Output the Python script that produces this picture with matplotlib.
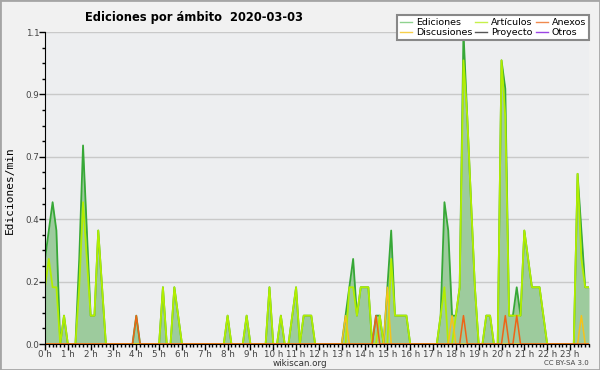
import numpy as np
import matplotlib.pyplot as plt
from matplotlib.lines import Line2D
from matplotlib.patches import Rectangle

# edits per minute, one value every 10 minutes (6 per hour)
ediciones = [
    0.3, 0.4, 0.5, 0.4, 0.0, 0.1,   # 0 h
    0.0, 0.0, 0.0, 0.3, 0.7, 0.4,   # 1 h
    0.1, 0.1, 0.4, 0.2, 0.0, 0.0,   # 2 h
    0.0, 0.0, 0.0, 0.0, 0.0, 0.0,   # 3 h
    0.1, 0.0, 0.0, 0.0, 0.0, 0.0,   # 4 h
    0.0, 0.2, 0.0, 0.0, 0.2, 0.1,   # 5 h
    0.0, 0.0, 0.0, 0.0, 0.0, 0.0,   # 6 h
    0.0, 0.0, 0.0, 0.0, 0.0, 0.0,   # 7 h
    0.1, 0.0, 0.0, 0.0, 0.0, 0.1,   # 8 h
    0.0, 0.0, 0.0, 0.0, 0.0, 0.2,   # 9 h
    0.0, 0.0, 0.1, 0.0, 0.0, 0.1,   # 10 h
    0.2, 0.0, 0.1, 0.1, 0.1, 0.0,   # 11 h
    0.0, 0.0, 0.0, 0.0, 0.0, 0.0,   # 12 h
    0.0, 0.1, 0.2, 0.3, 0.1, 0.2,   # 13 h
    0.2, 0.2, 0.0, 0.1, 0.1, 0.0,   # 14 h
    0.2, 0.4, 0.1, 0.1, 0.1, 0.1,   # 15 h
    0.0, 0.0, 0.0, 0.0, 0.0, 0.0,   # 16 h
    0.0, 0.0, 0.1, 0.5, 0.4, 0.1,   # 17 h
    0.1, 0.2, 1.1, 0.8, 0.5, 0.2,   # 18 h
    0.0, 0.0, 0.1, 0.1, 0.0, 0.0,   # 19 h
    1.0, 0.9, 0.1, 0.1, 0.2, 0.1,   # 20 h
    0.4, 0.3, 0.2, 0.2, 0.2, 0.1,   # 21 h
    0.0, 0.0, 0.0, 0.0, 0.0, 0.0,   # 22 h
    0.0, 0.0, 0.6, 0.4, 0.2, 0.2,   # 23 h
]

articulos = [
    0.2, 0.3, 0.2, 0.2, 0.0, 0.1,
    0.0, 0.0, 0.0, 0.2, 0.5, 0.3,
    0.1, 0.1, 0.4, 0.2, 0.0, 0.0,
    0.0, 0.0, 0.0, 0.0, 0.0, 0.0,
    0.0, 0.0, 0.0, 0.0, 0.0, 0.0,
    0.0, 0.2, 0.0, 0.0, 0.2, 0.1,
    0.0, 0.0, 0.0, 0.0, 0.0, 0.0,
    0.0, 0.0, 0.0, 0.0, 0.0, 0.0,
    0.1, 0.0, 0.0, 0.0, 0.0, 0.1,
    0.0, 0.0, 0.0, 0.0, 0.0, 0.2,
    0.0, 0.0, 0.1, 0.0, 0.0, 0.1,
    0.2, 0.0, 0.1, 0.1, 0.1, 0.0,
    0.0, 0.0, 0.0, 0.0, 0.0, 0.0,
    0.0, 0.0, 0.2, 0.2, 0.1, 0.2,
    0.2, 0.2, 0.0, 0.0, 0.1, 0.0,
    0.0, 0.3, 0.1, 0.1, 0.1, 0.1,
    0.0, 0.0, 0.0, 0.0, 0.0, 0.0,
    0.0, 0.0, 0.1, 0.2, 0.0, 0.0,
    0.1, 0.2, 1.0, 0.8, 0.5, 0.2,
    0.0, 0.0, 0.1, 0.1, 0.0, 0.0,
    1.0, 0.8, 0.1, 0.1, 0.1, 0.1,
    0.4, 0.3, 0.2, 0.2, 0.2, 0.1,
    0.0, 0.0, 0.0, 0.0, 0.0, 0.0,
    0.0, 0.0, 0.6, 0.3, 0.2, 0.2,
]

discusiones = [
    0.0, 0.0, 0.0, 0.0, 0.0, 0.0,
    0.0, 0.0, 0.0, 0.0, 0.0, 0.0,
    0.0, 0.0, 0.0, 0.0, 0.0, 0.0,
    0.0, 0.0, 0.0, 0.0, 0.0, 0.0,
    0.0, 0.0, 0.0, 0.0, 0.0, 0.0,
    0.0, 0.0, 0.0, 0.0, 0.0, 0.0,
    0.0, 0.0, 0.0, 0.0, 0.0, 0.0,
    0.0, 0.0, 0.0, 0.0, 0.0, 0.0,
    0.0, 0.0, 0.0, 0.0, 0.0, 0.0,
    0.0, 0.0, 0.0, 0.0, 0.0, 0.0,
    0.0, 0.0, 0.0, 0.0, 0.0, 0.0,
    0.0, 0.0, 0.0, 0.0, 0.0, 0.0,
    0.0, 0.0, 0.0, 0.0, 0.0, 0.0,
    0.0, 0.1, 0.0, 0.0, 0.0, 0.0,
    0.0, 0.0, 0.0, 0.0, 0.0, 0.0,
    0.2, 0.0, 0.0, 0.0, 0.0, 0.0,
    0.0, 0.0, 0.0, 0.0, 0.0, 0.0,
    0.0, 0.0, 0.0, 0.0, 0.0, 0.1,
    0.0, 0.0, 0.0, 0.0, 0.0, 0.0,
    0.0, 0.0, 0.0, 0.0, 0.0, 0.0,
    0.0, 0.0, 0.0, 0.0, 0.0, 0.0,
    0.0, 0.0, 0.0, 0.0, 0.0, 0.0,
    0.0, 0.0, 0.0, 0.0, 0.0, 0.0,
    0.0, 0.0, 0.0, 0.1, 0.0, 0.0,
]

anexos = [
    0.0, 0.0, 0.0, 0.0, 0.0, 0.0,
    0.0, 0.0, 0.0, 0.0, 0.0, 0.0,
    0.0, 0.0, 0.0, 0.0, 0.0, 0.0,
    0.0, 0.0, 0.0, 0.0, 0.0, 0.0,
    0.1, 0.0, 0.0, 0.0, 0.0, 0.0,
    0.0, 0.0, 0.0, 0.0, 0.0, 0.0,
    0.0, 0.0, 0.0, 0.0, 0.0, 0.0,
    0.0, 0.0, 0.0, 0.0, 0.0, 0.0,
    0.0, 0.0, 0.0, 0.0, 0.0, 0.0,
    0.0, 0.0, 0.0, 0.0, 0.0, 0.0,
    0.0, 0.0, 0.0, 0.0, 0.0, 0.0,
    0.0, 0.0, 0.0, 0.0, 0.0, 0.0,
    0.0, 0.0, 0.0, 0.0, 0.0, 0.0,
    0.0, 0.0, 0.0, 0.0, 0.0, 0.0,
    0.0, 0.0, 0.0, 0.1, 0.0, 0.0,
    0.0, 0.0, 0.0, 0.0, 0.0, 0.0,
    0.0, 0.0, 0.0, 0.0, 0.0, 0.0,
    0.0, 0.0, 0.0, 0.0, 0.0, 0.0,
    0.0, 0.0, 0.1, 0.0, 0.0, 0.0,
    0.0, 0.0, 0.0, 0.0, 0.0, 0.0,
    0.0, 0.1, 0.0, 0.0, 0.1, 0.0,
    0.0, 0.0, 0.0, 0.0, 0.0, 0.0,
    0.0, 0.0, 0.0, 0.0, 0.0, 0.0,
    0.0, 0.0, 0.0, 0.0, 0.0, 0.0,
]

proyecto = [0.0] * 144
otros = [0.0] * 144

hour_labels = [f'{h} h' for h in range(24)]

fig = plt.figure(figsize=(6, 3.7), dpi=100, facecolor='#f1f1f1')
ax = fig.add_axes([45/600, 26/370, 544/600, 312/370])
ax.set_facecolor('#edeef0')

x = np.arange(len(ediciones))
ax.plot(x, proyecto, color='#555555', lw=1, zorder=1.5)
ax.plot(x, otros, color='#9b45e4', lw=1, zorder=1.5)
ax.fill_between(x, ediciones, color='#9dcb9d', lw=0, zorder=2)
ax.plot(x, ediciones, color='#37a837', lw=1.3, zorder=4)
ax.plot(x, articulos, color='#b2ee00', lw=1.3, zorder=5)
ax.plot(x, discusiones, color='#f5c21b', lw=1.1, zorder=6)
ax.plot(x, anexos, color='#ef6416', lw=1.1, zorder=7)

# axes and ticks
ax.set_xlim(0, 143)
ax.set_ylim(0, 1.1)
yt = np.arange(6) * 0.22
ax.set_yticks(yt)
ax.set_yticklabels([f'{v:.1f}' for v in yt])
ax.set_yticks(np.arange(21) * 0.055, minor=True)
ax.set_xticks(np.arange(0, 144, 6))
ax.set_xticklabels(hour_labels)
ax.set_xticks(x, minor=True)
ax.yaxis.grid(True, which='major', color='#c9c9c9', lw=1)
ax.set_axisbelow(True)
for s in ['top', 'right']:
    ax.spines[s].set_visible(False)
for s in ['left', 'bottom']:
    ax.spines[s].set_color('black')
    ax.spines[s].set_zorder(8)
ax.tick_params(axis='both', which='major', length=4, width=1, labelsize=6.3,
               labelcolor='#444444', pad=0)
ax.tick_params(axis='both', which='minor', length=2.5, width=1)

# texts
fig.text(85/600, 1 - 17/370, 'Ediciones por ámbito  2020-03-03',
         fontsize=8.3, fontweight='bold', ha='left', va='center')
fig.text(10/600, 1 - 190/370, 'Ediciones/min', rotation=90,
         family='DejaVu Sans Mono', fontsize=8, ha='center', va='center')
fig.text(300/600, 1 - 363/370, 'wikiscan.org', fontsize=6.3,
         color='#333333', ha='center', va='center')
fig.text(589/600, 1 - 363/370, 'CC BY-SA 3.0', fontsize=5,
         color='#444444', ha='right', va='center')

# legend
handles = [Line2D([], [], color='#8fd28f', lw=1),
           Line2D([], [], color='#f6cf4a', lw=1),
           Line2D([], [], color='#c6f04a', lw=1),
           Line2D([], [], color='#555555', lw=1),
           Line2D([], [], color='#f08a4e', lw=1),
           Line2D([], [], color='#9b45e4', lw=1)]
names = ['Ediciones', 'Discusiones', 'Artículos', 'Proyecto', 'Anexos', 'Otros']
leg = fig.legend(handles, names, loc='upper right', bbox_to_anchor=(594/600, 1 - 10/370),
                 ncol=3, fontsize=6.8, frameon=True, fancybox=False,
                 edgecolor='#888888', facecolor='white', framealpha=1,
                 columnspacing=0.3, handlelength=1.3, handletextpad=0.4,
                 labelspacing=0.1, borderpad=0.35)
leg.get_frame().set_linewidth(1.5)

fig.add_artist(Rectangle((0, 0), 1, 1, transform=fig.transFigure, fill=False,
                         edgecolor='#a5a5a5', lw=2))

fig.savefig('out.png', dpi=100, facecolor=fig.get_facecolor())
